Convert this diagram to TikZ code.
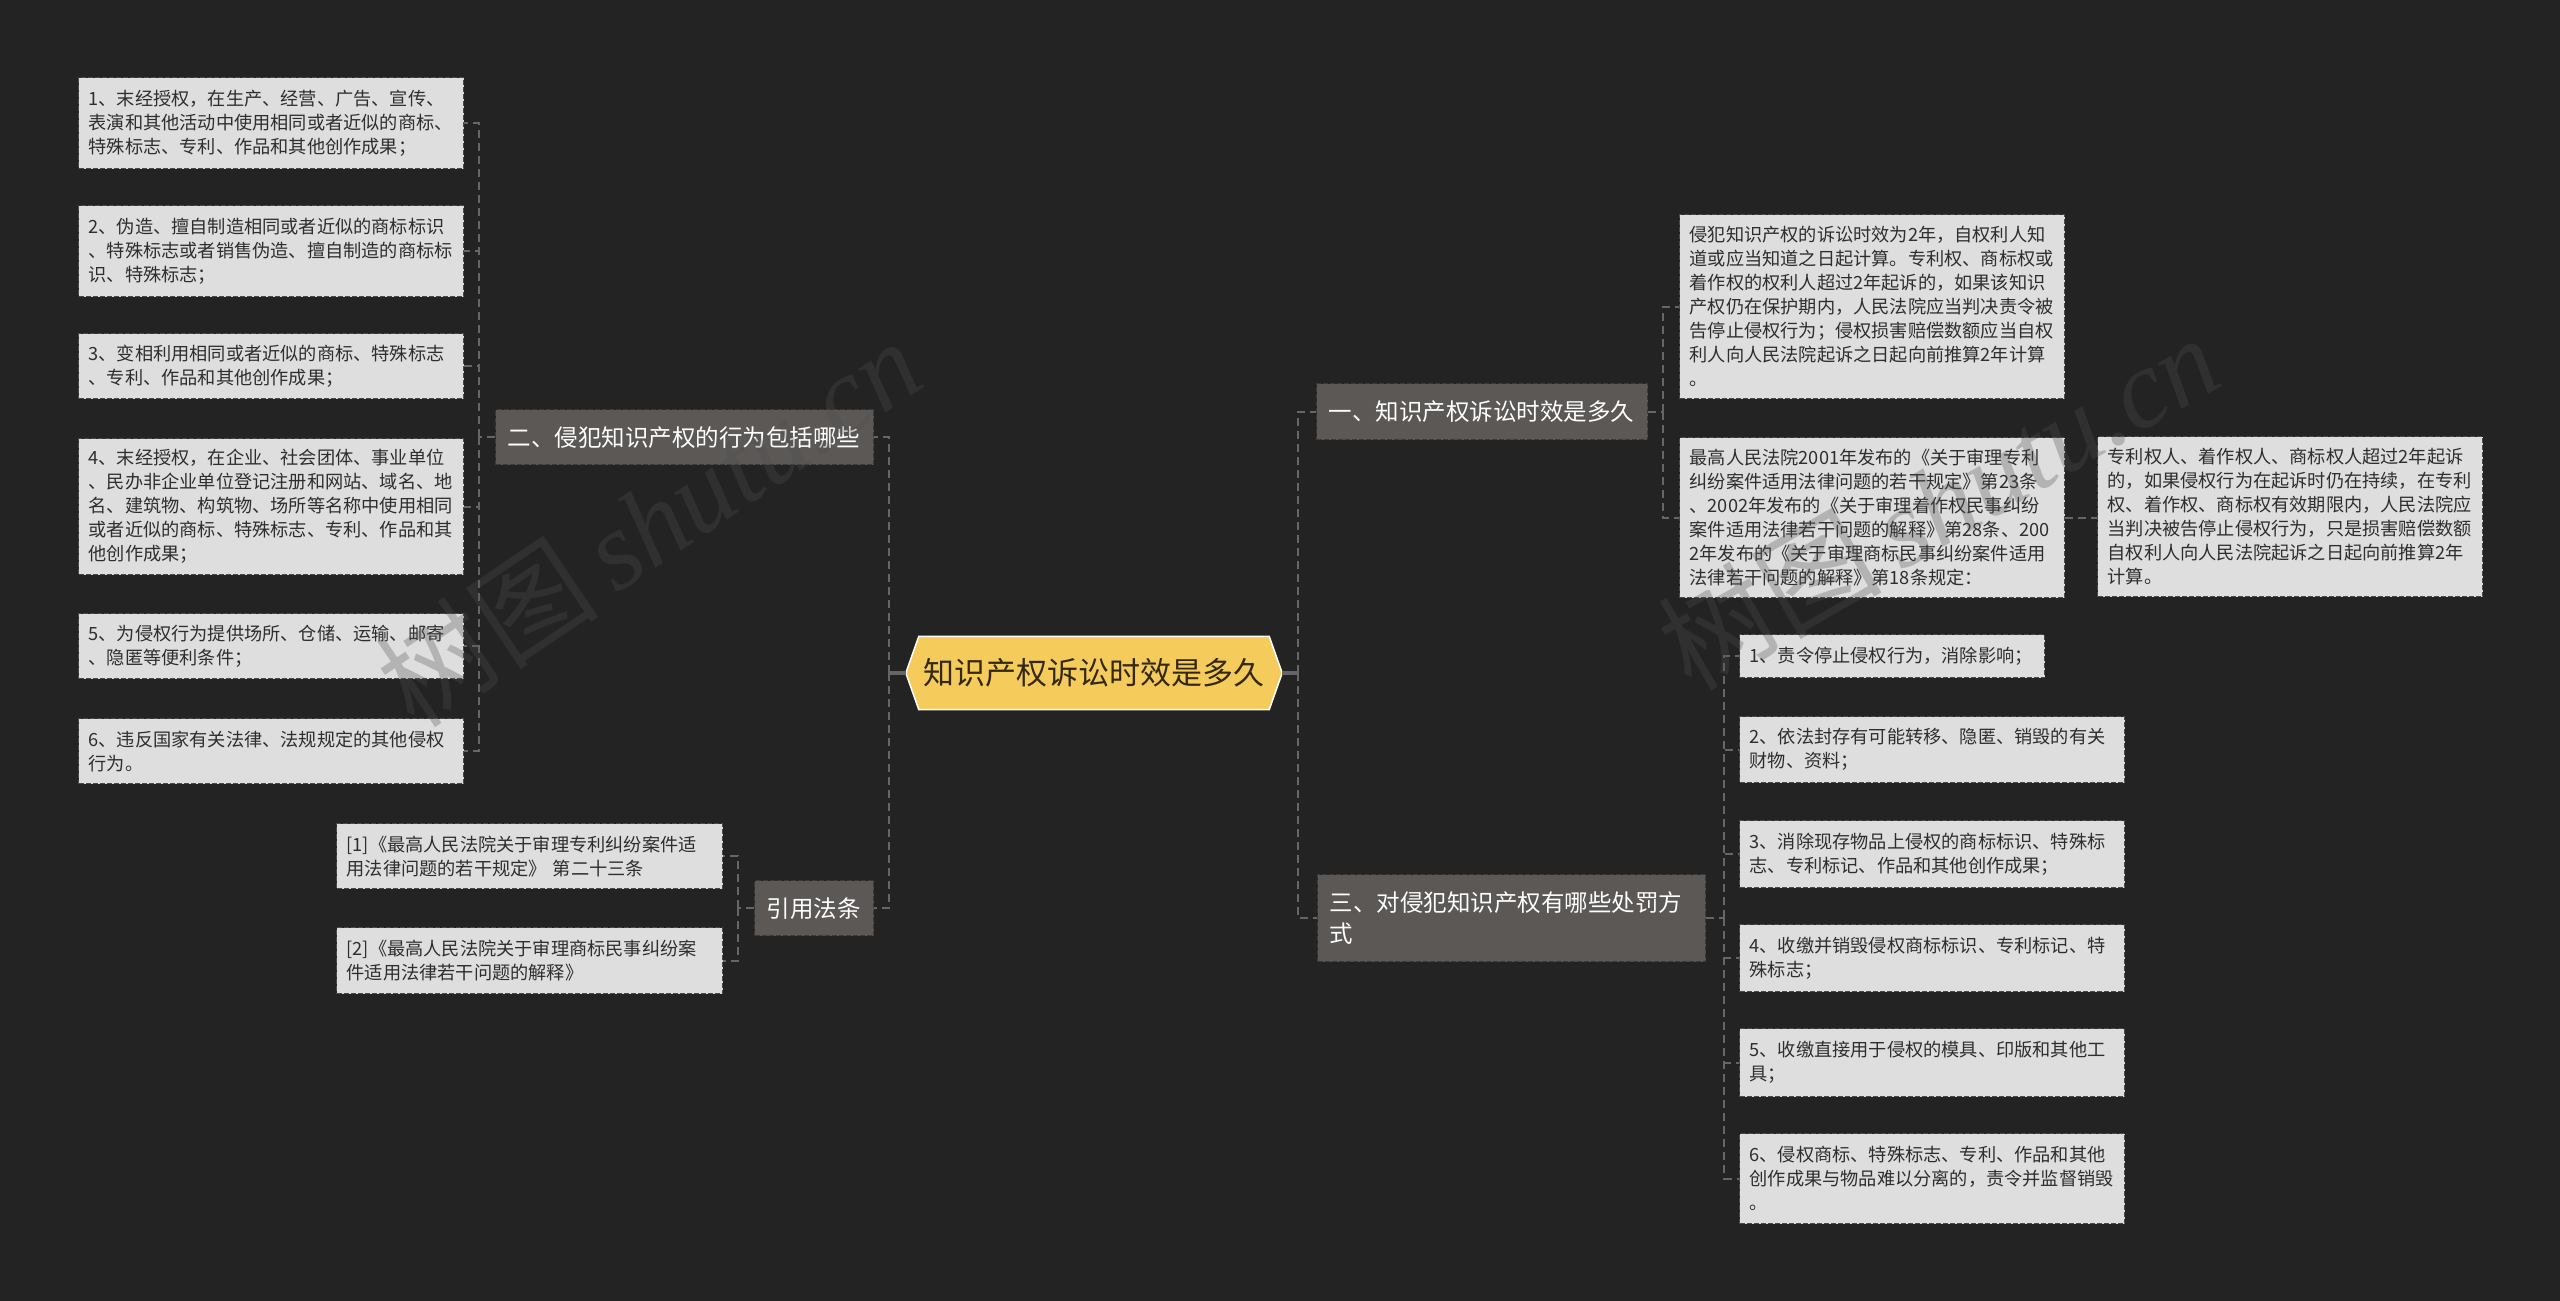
\documentclass[tikz,border=0pt]{standalone}
\usepackage{fontspec}
\setmainfont{Noto Sans CJK SC}
\newfontfamily\wmlatin{Liberation Serif}
\usetikzlibrary{calc}
\pgfdeclarelayer{background}
\pgfsetlayers{background,main}
\definecolor{bgc}{HTML}{232323}
\definecolor{leaffill}{HTML}{DEDEDE}
\definecolor{leafborder}{HTML}{4A4A4A}
\definecolor{leaftext}{HTML}{2E2E2E}
\definecolor{branchfill}{HTML}{5B5856}
\definecolor{branchborder}{HTML}{3C3A39}
\definecolor{rootfill}{HTML}{F5CB5C}
\definecolor{roottext}{HTML}{33290F}
\definecolor{conncol}{HTML}{666666}
\definecolor{wmcol}{HTML}{505050}
\begin{document}
\begin{tikzpicture}[x=1pt,y=-1pt,
  leaf/.style={draw=leafborder, fill=leaffill, dash pattern=on 5pt off 2pt, line width=1.2pt,
    text=leaftext, font=\fontsize{18.2}{24}\selectfont, align=left,
    inner xsep=10pt, inner ysep=0pt, anchor=north west},
  branch/.style={draw=branchborder, fill=branchfill, dash pattern=on 5pt off 2pt, line width=1.2pt,
    text=white, font=\fontsize{23.5}{31}\selectfont, align=left,
    inner xsep=12pt, inner ysep=0pt, anchor=north west},
  conn/.style={draw=conncol, line width=2pt, dash pattern=on 8pt off 5pt},
  stub/.style={draw=conncol, line width=3.5pt},
  wmark/.style={text=wmcol, opacity=0.3, font=\fontsize{112}{112}\selectfont}]
\useasboundingbox (0,0) rectangle (2560,1301);

% root
\node[text=roottext, font=\fontsize{31}{36}\selectfont, minimum width=376pt, minimum height=73pt, inner sep=0pt] (root) at (1094,673) {知识产权诉讼时效是多久};
\begin{pgfonlayer}{background}
\fill[bgc] (0,0) rectangle (2560,1301);
\path[fill=rootfill, draw=white, line width=1.5pt] (root.west) -- ([xshift=13pt]root.north west) -- ([xshift=-13pt]root.north east) -- (root.east) -- ([xshift=-13pt]root.south east) -- ([xshift=13pt]root.south west) -- cycle;
\end{pgfonlayer}

% branches
\node[branch, text width=307pt, minimum height=56pt] (n1) at (1316,383) {一、知识产权诉讼时效是多久};
\node[branch, text width=354pt, minimum height=55pt] (n2) at (495,409) {二、侵犯知识产权的行为包括哪些};
\node[branch, text width=364pt, minimum height=87pt] (n3) at (1317,874) {三、对侵犯知识产权有哪些处罚方\\式};
\node[branch, text width=95pt, minimum height=55pt] (cite) at (754,880) {引用法条};

% leaves of 二
\node[leaf, text width=365pt, minimum height=91pt] (L1) at (78,77) {1、末经授权，在生产、经营、广告、宣传、\\表演和其他活动中使用相同或者近似的商标、\\特殊标志、专利、作品和其他创作成果；};
\node[leaf, text width=365pt, minimum height=91pt] (L2) at (78,205) {2、伪造、擅自制造相同或者近似的商标标识\\、特殊标志或者销售伪造、擅自制造的商标标\\识、特殊标志；};
\node[leaf, text width=365pt, minimum height=65pt] (L3) at (78,333) {3、变相利用相同或者近似的商标、特殊标志\\、专利、作品和其他创作成果；};
\node[leaf, text width=365pt, minimum height=136pt] (L4) at (78,438) {4、末经授权，在企业、社会团体、事业单位\\、民办非企业单位登记注册和网站、域名、地\\名、建筑物、构筑物、场所等名称中使用相同\\或者近似的商标、特殊标志、专利、作品和其\\他创作成果；};
\node[leaf, text width=365pt, minimum height=65pt] (L5) at (78,613) {5、为侵权行为提供场所、仓储、运输、邮寄\\、隐匿等便利条件；};
\node[leaf, text width=365pt, minimum height=65pt] (L6) at (78,718) {6、违反国家有关法律、法规规定的其他侵权\\行为。};

% leaves of 引用法条
\node[leaf, text width=366pt, minimum height=65pt] (R1) at (336,823) {[1]《最高人民法院关于审理专利纠纷案件适\\用法律问题的若干规定》 第二十三条};
\node[leaf, text width=366pt, minimum height=66pt] (R2) at (336,927) {[2]《最高人民法院关于审理商标民事纠纷案\\件适用法律若干问题的解释》};

% leaves of 一
\node[leaf, text width=365pt, minimum height=184pt] (a1) at (1679,214) {侵犯知识产权的诉讼时效为2年，自权利人知\\道或应当知道之日起计算。专利权、商标权或\\着作权的权利人超过2年起诉的，如果该知识\\产权仍在保护期内，人民法院应当判决责令被\\告停止侵权行为；侵权损害赔偿数额应当自权\\利人向人民法院起诉之日起向前推算2年计算\\。};
\node[leaf, text width=365pt, minimum height=160pt] (a2) at (1679,437) {最高人民法院2001年发布的《关于审理专利\\纠纷案件适用法律问题的若干规定》第23条\\、2002年发布的《关于审理着作权民事纠纷\\案件适用法律若干问题的解释》第28条、200\\2年发布的《关于审理商标民事纠纷案件适用\\法律若干问题的解释》第18条规定：};
\node[leaf, text width=365pt, minimum height=160pt] (a3) at (2097,436) {专利权人、着作权人、商标权人超过2年起诉\\的，如果侵权行为在起诉时仍在持续，在专利\\权、着作权、商标权有效期限内，人民法院应\\当判决被告停止侵权行为，只是损害赔偿数额\\自权利人向人民法院起诉之日起向前推算2年\\计算。};

% leaves of 三
\node[leaf, text width=285pt, minimum height=43pt] (c1) at (1739,634) {1、责令停止侵权行为，消除影响；};
\node[leaf, text width=365pt, minimum height=66pt] (c2) at (1739,716) {2、依法封存有可能转移、隐匿、销毁的有关\\财物、资料；};
\node[leaf, text width=365pt, minimum height=67pt] (c3) at (1739,820) {3、消除现存物品上侵权的商标标识、特殊标\\志、专利标记、作品和其他创作成果；};
\node[leaf, text width=365pt, minimum height=67pt] (c4) at (1739,924) {4、收缴并销毁侵权商标标识、专利标记、特\\殊标志；};
\node[leaf, text width=365pt, minimum height=68pt] (c5) at (1739,1028) {5、收缴直接用于侵权的模具、印版和其他工\\具；};
\node[leaf, text width=365pt, minimum height=90pt] (c6) at (1739,1133) {6、侵权商标、特殊标志、专利、作品和其他\\创作成果与物品难以分离的，责令并监督销毁\\。};

% connectors
\draw[stub] (root.west) -- ++(-17,0) coordinate (rl);
\draw[stub] (root.east) -- ++(16,0) coordinate (rr);
\draw[conn] (rl) |- (n2.east);
\draw[conn] (rl) |- (cite.east);
\draw[conn] (rr) |- (n1.west);
\draw[conn] (rr) |- (n3.west);

\draw[conn] (n2.west) -- ++(-16,0) coordinate (s2);
\foreach \t in {L1,L2,L3,L4,L5,L6} \draw[conn] (s2) |- (\t.east);

\draw[conn] (cite.west) -- ++(-16,0) coordinate (sc);
\draw[conn] (sc) |- (R1.east);
\draw[conn] (sc) |- (R2.east);

\draw[conn] (n1.east) -- ++(15,0) coordinate (s1);
\draw[conn] (s1) |- (a1.west);
\draw[conn] (s1) |- (a2.west);
\draw[conn] (a2.east) -- (a2.east -| a3.west);

\draw[conn] (n3.east) -- ++(18,0) coordinate (s3);
\foreach \t in {c1,c2,c3,c4,c5,c6} \draw[conn] (s3) |- (\t.west);

% watermark
\node[wmark, rotate=34] (wm1) at (648,522) {树图\,{\wmlatin\itshape shutu.cn}};
\node[wmark, rotate=30] (wm2) at (1938,501) {树图\,{\wmlatin\itshape shutu.cn}};
\end{tikzpicture}
\end{document}
